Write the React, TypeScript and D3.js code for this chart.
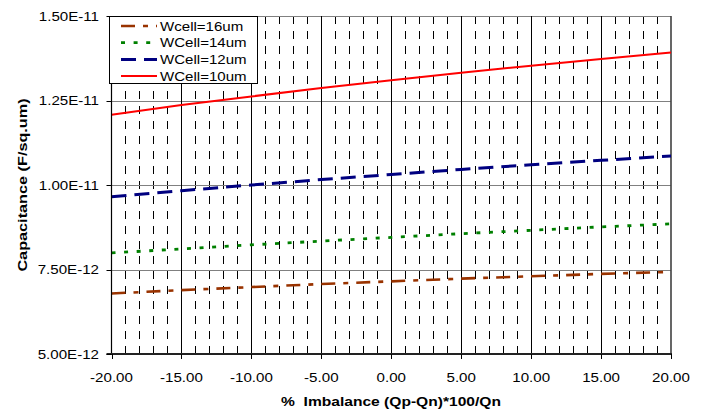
import React from "react";
import * as d3 from "d3";

const xValues = [-20, -15, -10, -5, 0, 5, 10, 15, 20];
const wcell16 = [6.79e-12, 6.89e-12, 6.98e-12, 7.07e-12, 7.15e-12, 7.23e-12, 7.3e-12, 7.37e-12, 7.43e-12];
const wcell14 = [7.99e-12, 8.11e-12, 8.23e-12, 8.34e-12, 8.45e-12, 8.56e-12, 8.66e-12, 8.76e-12, 8.85e-12];
const wcell12 = [9.65e-12, 9.83e-12, 1.0e-11, 1.016e-11, 1.031e-11, 1.046e-11, 1.06e-11, 1.073e-11, 1.086e-11];
const wcell10 = [1.208e-11, 1.237e-11, 1.262e-11, 1.287e-11, 1.31e-11, 1.332e-11, 1.353e-11, 1.373e-11, 1.392e-11];

const seriesNames = ["Wcell=16um", "WCell=14um", "WCell=12um", "WCell=10um"];
const yTicks = [5e-12, 7.5e-12, 1e-11, 1.25e-11, 1.5e-11];
const xMajorTicks = [-20, -15, -10, -5, 0, 5, 10, 15, 20];
const xMinorTicks = d3.range(-19, 20).filter((v) => v % 5 !== 0);

const series = [
  { name: seriesNames[0], values: wcell16, color: "#993300", width: 2.6, dash: "14,8,5,8" },
  { name: seriesNames[1], values: wcell14, color: "#008000", width: 2.8, dash: "4,8.6" },
  { name: seriesNames[2], values: wcell12, color: "#000080", width: 3, dash: "15,8" },
  { name: seriesNames[3], values: wcell10, color: "#FF0000", width: 2, dash: "none" },
];

const L = 111.5, R = 671, T = 16, B = 354;
const FONT = "'Liberation Sans', Arial, sans-serif";

export default function App() {
  const x = d3.scaleLinear().domain([-20, 20]).range([L, R]);
  const y = d3.scaleLinear().domain([5e-12, 1.5e-11]).range([B, T]);
  const line = d3
    .line<number>()
    .x((_, i) => x(xValues[i]))
    .y((d) => y(d));

  const fmtY = (v: number) => v.toExponential(2).toUpperCase();
  const fmtX = (v: number) => v.toFixed(2);

  return (
    <svg
      width={709}
      height={414}
      style={{ position: "absolute", left: 0, top: 0, background: "#fff" }}
      fontFamily={FONT}
    >
      <rect x={0} y={0} width={709} height={414} fill="#fff" />
      {/* minor dashed vertical gridlines */}
      {xMinorTicks.map((v) => (
        <line
          key={"mn" + v}
          x1={Math.round(x(v)) + 0.5}
          x2={Math.round(x(v)) + 0.5}
          y1={T}
          y2={B}
          stroke="#000"
          strokeWidth={1}
          strokeDasharray="8,7"
        />
      ))}
      {/* horizontal gridlines */}
      {yTicks.map((v) => (
        <line
          key={"hg" + v}
          x1={L}
          x2={R}
          y1={Math.round(y(v)) + 0.5}
          y2={Math.round(y(v)) + 0.5}
          stroke="#808080"
          strokeWidth={1}
        />
      ))}
      {/* major vertical gridlines */}
      {xMajorTicks.slice(1, -1).map((v) => (
        <line
          key={"mj" + v}
          x1={Math.round(x(v)) + 0.5}
          x2={Math.round(x(v)) + 0.5}
          y1={T}
          y2={B}
          stroke="#000"
          strokeWidth={1}
        />
      ))}
      {/* right border */}
      <line x1={R} x2={R} y1={T} y2={B} stroke="#404040" strokeWidth={1.6} />
      {/* series */}
      {series.map((s) => (
        <path
          key={s.name}
          d={line(s.values) || ""}
          fill="none"
          stroke={s.color}
          strokeWidth={s.width}
          strokeDasharray={s.dash}
        />
      ))}
      {/* axes */}
      <line x1={L} x2={L} y1={T} y2={B} stroke="#000" strokeWidth={1.2} />
      <line x1={L - 5} x2={R + 1} y1={B} y2={B} stroke="#222" strokeWidth={2} />
      {yTicks.map((v) => (
        <g key={"yt" + v}>
          <line x1={L - 5} x2={L} y1={Math.round(y(v)) + 0.5} y2={Math.round(y(v)) + 0.5} stroke="#000" />
          <text
            transform={`translate(99,${y(v) + 4.8}) scale(1.12,1)`}
            textAnchor="end"
            fontSize={13.5}
            fill="#000"
          >
            {fmtY(v)}
          </text>
        </g>
      ))}
      {xMajorTicks.map((v) => (
        <g key={"xt" + v}>
          <line x1={Math.round(x(v)) + 0.5} x2={Math.round(x(v)) + 0.5} y1={B} y2={B + 5} stroke="#000" />
          <text
            transform={`translate(${x(v)},382) scale(1.12,1)`}
            textAnchor="middle"
            fontSize={13.5}
            fill="#000"
          >
            {fmtX(v)}
          </text>
        </g>
      ))}
      {/* axis titles */}
      <text
        transform={`translate(391,406) scale(1.2,1)`}
        textAnchor="middle"
        fontSize={13}
        fontWeight="bold"
        fill="#000"
        style={{ whiteSpace: "pre" }}
      >
        {"%  Imbalance (Qp-Qn)*100/Qn"}
      </text>
      <text
        transform={`translate(27,${(T + B) / 2}) rotate(-90) scale(1.25,1)`}
        textAnchor="middle"
        fontSize={13}
        fontWeight="bold"
        fill="#000"
        style={{ whiteSpace: "pre" }}
      >
        Capacitance (F/sq.um)
      </text>
      {/* legend */}
      <rect x={109.5} y={16.5} width={148} height={67} fill="#fff" stroke="#000" strokeWidth={1} />
      {series.map((s, i) => {
        const ly = 26 + i * 16.7;
        return (
          <g key={"lg" + s.name}>
            <line
              x1={121}
              x2={157}
              y1={ly}
              y2={ly}
              stroke={s.color}
              strokeWidth={s.width}
              strokeDasharray={s.dash}
            />
            <text
              transform={`translate(160,${ly + 4.7}) scale(1.16,1)`}
              fontSize={13}
              fill="#000"
            >
              {s.name}
            </text>
          </g>
        );
      })}
    </svg>
  );
}
